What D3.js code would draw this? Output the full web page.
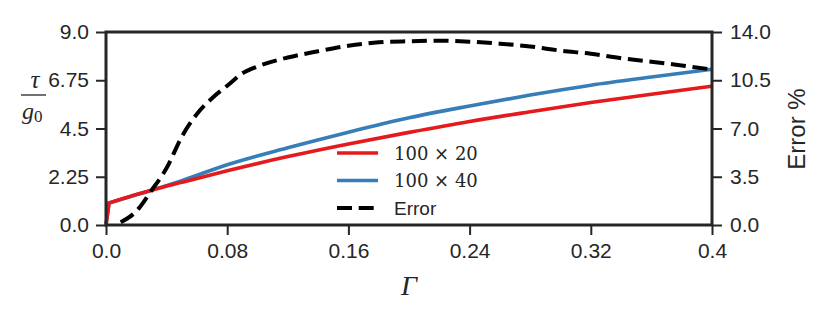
<!DOCTYPE html>
<html>
<head>
<meta charset="utf-8">
<script src="https://cdn.jsdelivr.net/npm/d3@7"></script>
<style>
	body { margin: 0; background: #fff; }
	svg { display: block; }
</style>
</head>
<body>
<div id="app"></div>
<script>
// values
const gammaRes = [0, 0.002, 0.03, 0.05, 0.08, 0.12, 0.16, 0.2, 0.24, 0.28, 0.32, 0.36, 0.4];
const tau20 = [0, 1.03, 1.62, 1.99, 2.53, 3.19, 3.78, 4.32, 4.83, 5.28, 5.71, 6.1, 6.47];
const tau40 = [0, 1.03, 1.62, 2.07, 2.81, 3.6, 4.33, 5.0, 5.55, 6.06, 6.52, 6.9, 7.26];

const gammaErr = [0.0097, 0.02, 0.03, 0.04, 0.05, 0.06, 0.07, 0.08, 0.09, 0.1, 0.12, 0.14, 0.16, 0.18,
	0.2, 0.22, 0.24, 0.26, 0.28, 0.3, 0.32, 0.34, 0.36, 0.38, 0.4];
const errorPct = [0.2, 1.0, 2.5, 4.13, 6.4, 8.05, 9.2, 10.1, 11.0, 11.5, 12.15, 12.6, 13.0, 13.25,
	13.33, 13.37, 13.3, 13.15, 12.95, 12.65, 12.42, 12.1, 11.85, 11.57, 11.28];

const xTicks = [0, 0.08, 0.16, 0.24, 0.32, 0.4];
const xTickLabels = ['0.0', '0.08', '0.16', '0.24', '0.32', '0.4'];
const yTicks = [0, 2.25, 4.5, 6.75, 9];
const yTickLabels = ['0.0', '2.25', '4.5', '6.75', '9.0'];
const errTicks = [0, 3.5, 7, 10.5, 14];
const errTickLabels = ['0.0', '3.5', '7.0', '10.5', '14.0'];

const legendItems = [
	{ label: '100 × 20', color: '#e41a1c', dash: null },
	{ label: '100 × 40', color: '#377eb8', dash: null },
	{ label: 'Error', color: '#000', dash: '15,6.7' },
];

const render = () => {
	const width = 830;
	const height = 318;
	const x0 = 106, x1 = 712, yTop = 32, yBottom = 225;
	const ink = '#262626';
	const tickFont = '"Liberation Sans", Arial, sans-serif';
	const serif = '"Liberation Serif", "DejaVu Serif", serif';

	const svg = d3.select('#app').append('svg')
		.attr('width', width)
		.attr('height', height);

	svg.append('rect').attr('width', width).attr('height', height).attr('fill', '#fff');

	const x = d3.scaleLinear().domain([0, 0.4]).range([x0, x1]);
	const y = d3.scaleLinear().domain([0, 9]).range([yBottom, yTop]);
	const yErr = d3.scaleLinear().domain([0, 14]).range([yBottom, yTop]);

	const styleAxis = (g) => {
		g.select('.domain').remove();
		g.selectAll('.tick line').attr('stroke', ink).attr('stroke-width', 2);
		g.selectAll('.tick text')
			.attr('fill', ink)
			.attr('font-family', tickFont)
			.attr('font-size', 21);
	};

	svg.append('g')
		.attr('transform', `translate(0,${yBottom})`)
		.call(d3.axisBottom(x).tickValues(xTicks).tickSize(10).tickPadding(8)
			.tickFormat((d, i) => xTickLabels[i]))
		.call(styleAxis);

	svg.append('g')
		.attr('transform', `translate(${x0},0)`)
		.call(d3.axisLeft(y).tickValues(yTicks).tickSize(10).tickPadding(7)
			.tickFormat((d, i) => yTickLabels[i]))
		.call(styleAxis);

	svg.append('g')
		.attr('transform', `translate(${x1},0)`)
		.call(d3.axisRight(yErr).tickValues(errTicks).tickSize(10).tickPadding(8)
			.tickFormat((d, i) => errTickLabels[i]))
		.call(styleAxis);

	// curves: straight jump from the origin, smooth afterwards
	const smooth = d3.line()
		.x((d) => x(d[0]))
		.y((d) => y(d[1]))
		.curve(d3.curveMonotoneX);
	const resPath = (vals) => {
		const pts = gammaRes.map((g, i) => [g, vals[i]]);
		return `M${x(pts[0][0])},${y(pts[0][1])}L` + smooth(pts.slice(1)).slice(1);
	};

	svg.append('path')
		.attr('d', resPath(tau40))
		.attr('fill', 'none')
		.attr('stroke', legendItems[1].color)
		.attr('stroke-width', 3.6);

	svg.append('path')
		.attr('d', resPath(tau20))
		.attr('fill', 'none')
		.attr('stroke', legendItems[0].color)
		.attr('stroke-width', 3.6);

	svg.append('path')
		.attr('d', d3.line()
			.x((d, i) => x(gammaErr[i]))
			.y((d) => yErr(d))
			.curve(d3.curveMonotoneX)(errorPct))
		.attr('fill', 'none')
		.attr('stroke', '#000')
		.attr('stroke-width', 4)
		.attr('stroke-dasharray', legendItems[2].dash);

	// frame
	svg.append('rect')
		.attr('x', x0).attr('y', yTop)
		.attr('width', x1 - x0).attr('height', yBottom - yTop)
		.attr('fill', 'none')
		.attr('stroke', ink)
		.attr('stroke-width', 3);

	// legend
	const legend = svg.append('g').attr('transform', 'translate(337,153)');
	legendItems.forEach((item, i) => {
		const row = legend.append('g').attr('transform', `translate(0,${i * 27.5})`);
		row.append('line')
			.attr('x1', 0).attr('x2', 41)
			.attr('stroke', item.color)
			.attr('stroke-width', item.dash ? 4 : 3.6)
			.attr('stroke-dasharray', item.dash);
		row.append('text')
			.attr('x', 57)
			.attr('y', item.dash ? 7 : 6.5)
			.attr('fill', ink)
			.attr('font-family', item.dash ? tickFont : '"DejaVu Serif", serif')
			.attr('font-size', item.dash ? 19 : 18)
			.text(item.label);
	});

	// axis labels
	svg.append('text')
		.attr('x', 409).attr('y', 295)
		.attr('text-anchor', 'middle')
		.attr('font-family', serif)
		.attr('font-style', 'italic')
		.attr('font-size', 28)
		.attr('fill', ink)
		.text('Γ');

	const frac = svg.append('g').attr('fill', ink);
	frac.append('text')
		.attr('x', 35).attr('y', 88)
		.attr('text-anchor', 'middle')
		.attr('font-family', serif)
		.attr('font-style', 'italic')
		.attr('font-size', 25)
		.text('τ');
	frac.append('line')
		.attr('x1', 21).attr('x2', 46)
		.attr('y1', 95).attr('y2', 95)
		.attr('stroke', ink).attr('stroke-width', 1.3);
	const g0 = frac.append('text')
		.attr('x', 22).attr('y', 119)
		.attr('font-family', serif)
		.attr('font-size', 24);
	g0.append('tspan').attr('font-style', 'italic').text('g');
	g0.append('tspan').attr('font-size', 17).attr('dy', 3).text('0');

	svg.append('text')
		.attr('transform', 'translate(805,129) rotate(-90)')
		.attr('text-anchor', 'middle')
		.attr('font-family', tickFont)
		.attr('font-size', 24)
		.attr('fill', ink)
		.text('Error %');
};

render();
</script>
</body>
</html>
